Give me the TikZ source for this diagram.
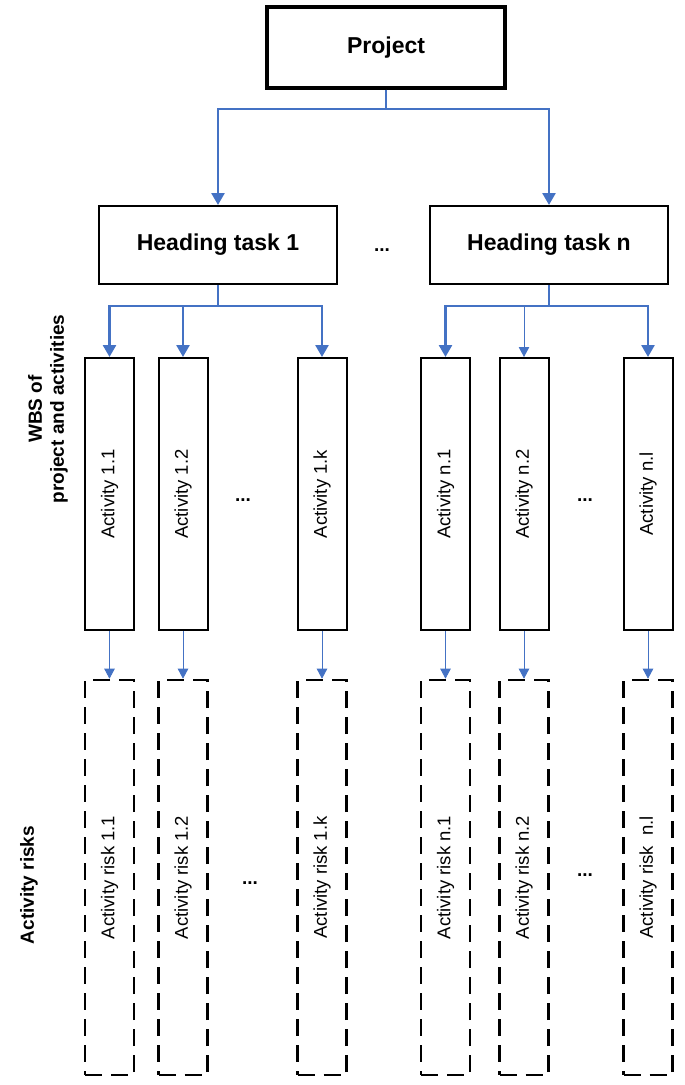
\documentclass[tikz,border=0pt]{standalone}
\usepackage{fontspec}
\setmainfont{Liberation Sans}
\usetikzlibrary{arrows.meta}
\definecolor{wbsblue}{RGB}{68,114,196}

\begin{document}
\begin{tikzpicture}[x=1pt, y=-1pt,
		every node/.style={inner sep=0pt, font=\fontsize{18.5}{22}\selectfont},
		topbox/.style={draw, line width=3.2pt, minimum width=238pt, minimum height=81pt, font=\fontsize{23}{27}\selectfont\bfseries},
		headbox/.style={draw, line width=2pt, minimum width=238pt, minimum height=78pt, font=\fontsize{23}{27}\selectfont\bfseries},
		actbox/.style={draw, line width=2pt, minimum width=49pt, minimum height=272pt},
		riskbox/.style={draw, line width=2.6pt, dash pattern=on 17pt off 9pt, minimum width=49pt, minimum height=395pt},
		link/.style={draw=wbsblue, line width=2.6pt, -{Triangle[width=13pt,length=12pt]}},
		thinlink/.style={draw=wbsblue, line width=0.9pt, -{Triangle[width=10.5pt,length=10pt]}},
		dots/.style={font=\fontsize{19}{21}\selectfont\bfseries},
		side/.style={font=\fontsize{19}{22}\selectfont\bfseries, align=center, rotate=90}]
	\useasboundingbox (0,0) rectangle (685,1085);

	% Manual node positions
	\node[topbox] (proj) at (386,47.5) {Project};
	\node[headbox] (head1) at (218,245) {Heading task 1};
	\node[headbox] (headn) at (549,245) {Heading task n};
	\node[dots] (hdots) at (382,250) {...};

	\node[side] (wbs) at (48,409) {WBS of\\project and activities};
	\node[side] (risks) at (29,885) {Activity risks};

	\node[actbox] (a11) at (109.5,494) {\rotatebox{90}{Activity 1.1}};
	\node[actbox] (a12) at (183,494) {\rotatebox{90}{Activity 1.2}};
	\node[actbox] (a1k) at (322,494) {\rotatebox{90}{Activity 1.k}};
	\node[actbox] (an1) at (445.5,494) {\rotatebox{90}{Activity n.1}};
	\node[actbox] (an2) at (524,494) {\rotatebox{90}{Activity n.2}};
	\node[actbox] (anl) at (648,494) {\rotatebox{90}{Activity n.l}};
	\node[dots] (adots1) at (243,500) {...};
	\node[dots] (adotsn) at (585,500) {...};

	\node[riskbox] (r11) at (109.5,877.5) {\rotatebox{90}{Activity risk 1.1}};
	\node[riskbox] (r12) at (183,877.5) {\rotatebox{90}{Activity risk 1.2}};
	\node[riskbox] (r1k) at (322,877.5) {\rotatebox{90}{Activity risk 1.k}};
	\node[riskbox] (rn1) at (445.5,877.5) {\rotatebox{90}{Activity risk n.1}};
	\node[riskbox] (rn2) at (524,877.5) {\rotatebox{90}{Activity risk n.2}};
	\node[riskbox] (rnl) at (648,877.5) {\rotatebox{90}{Activity risk\ \ n.l}};
	\node[dots] (rdots1) at (250,883) {...};
	\node[dots] (rdotsn) at (585,875) {...};

	% Connections
	\draw[link] (proj.south) -- ++(0,19.5) -| (head1.north);
	\draw[link] (proj.south) -- ++(0,19.5) -| (headn.north);

	\draw[link] (head1.south) -- ++(0,21) -| (a11.north);
	\draw[link] (head1.south) -- ++(0,21) -| (a12.north);
	\draw[link] (head1.south) -- ++(0,21) -| (a1k.north);
	\draw[link] (headn.south) -- ++(0,21) -| (an1.north);
	\draw[link] (headn.south) -- ++(0,21) -| (anl.north);
	\draw[thinlink] (headn.south) ++(0,21) -| (an2.north);

	\draw[thinlink] (a11) -- (r11);
	\draw[thinlink] (a12) -- (r12);
	\draw[thinlink] (a1k) -- (r1k);
	\draw[thinlink] (an1) -- (rn1);
	\draw[thinlink] (an2) -- (rn2);
	\draw[thinlink] (anl) -- (rnl);

\end{tikzpicture}
\end{document}
